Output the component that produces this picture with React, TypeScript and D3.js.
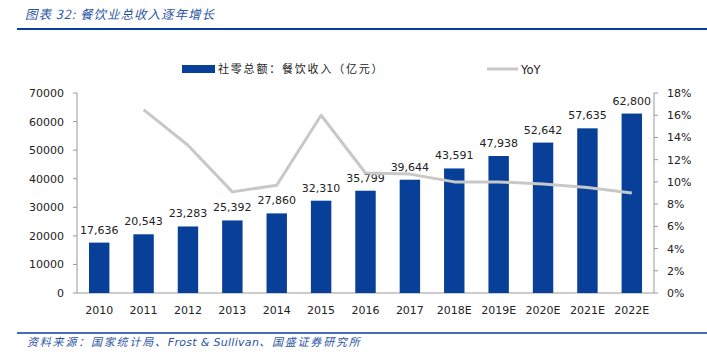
import React from "react";
import * as d3 from "d3";

const categories = ["2010","2011","2012","2013","2014","2015","2016","2017","2018E","2019E","2020E","2021E","2022E"];
const revenue = [17636, 20543, 23283, 25392, 27860, 32310, 35799, 39644, 43591, 47938, 52642, 57635, 62800];
const yoy: (number | null)[] = [null, 16.5, 13.3, 9.1, 9.7, 16.0, 10.8, 10.7, 10.0, 10.0, 9.8, 9.5, 9.0];
const leftTicks = [0, 10000, 20000, 30000, 40000, 50000, 60000, 70000];
const rightTicks = [0, 2, 4, 6, 8, 10, 12, 14, 16, 18];

const W = 707, H = 356;
const left = 77, right = 654, top = 93, bottom = 293;
const BLUE = "#073f99";
const TXT = "#2b55a5";
const FONT = "'DejaVu Sans', Verdana, sans-serif";
const CJK = "'Noto Sans CJK SC', sans-serif";

export default function App() {
  const x = d3.scaleBand<string>().domain(categories).range([left, right]).paddingInner(0.54).paddingOuter(0.27);
  const y = d3.scaleLinear().domain([0, 70000]).range([bottom, top]);
  const y2 = d3.scaleLinear().domain([0, 18]).range([bottom, top]);
  const line = d3.line<[string, number | null]>()
    .defined(d => d[1] !== null)
    .x(d => (x(d[0]) as number) + x.bandwidth() / 2)
    .y(d => y2(d[1] as number));
  const pairs: [string, number | null][] = categories.map((c, i) => [c, yoy[i]]);
  const fmt = d3.format(",");
  return (
    <svg width={W} height={H} style={{ position: "absolute", left: 0, top: 0, background: "#fff" }}>
      <rect width={W} height={H} fill="#fff" />
      <text x={25} y={19} fill={TXT} fontStyle="italic" fontFamily={CJK} fontSize={12.5} letterSpacing={1}>图表 32:  餐饮业总收入逐年增长</text>
      <line x1={17} x2={707} y1={29} y2={29} stroke={BLUE} strokeWidth={2} />
      {/* legend */}
      <rect x={182} y={65} width={33} height={8} fill={BLUE} />
      <text x={218} y={73} fontFamily={CJK} fontSize={11} fill="#222" letterSpacing={1.8}>社零总额：餐饮收入（亿元）</text>
      <line x1={487} x2={518} y1={69} y2={69} stroke="#c8c8c8" strokeWidth={3} />
      <text x={521} y={73.5} fontFamily={FONT} fontSize={11.5} fill="#222">YoY</text>
      {/* axes */}
      <line x1={left} x2={left} y1={top} y2={bottom} stroke="#999" />
      <line x1={right} x2={right} y1={top} y2={bottom} stroke="#999" />
      <line x1={left} x2={right} y1={bottom} y2={bottom} stroke="#999" />
      {leftTicks.map(t => (
        <g key={"l" + t}>
          <line x1={left - 4} x2={left} y1={y(t)} y2={y(t)} stroke="#999" />
          <text x={64} y={y(t) + 4} textAnchor="end" fontFamily={FONT} fontSize={11} fill="#222">{t}</text>
        </g>
      ))}
      {rightTicks.map(t => (
        <g key={"r" + t}>
          <line x1={right} x2={right + 4} y1={y2(t)} y2={y2(t)} stroke="#999" />
          <text x={667} y={y2(t) + 4} textAnchor="start" fontFamily={FONT} fontSize={11} fill="#222">{t}%</text>
        </g>
      ))}
      {categories.map(c => (
        <text key={"x" + c} x={(x(c) as number) + x.bandwidth() / 2} y={314} textAnchor="middle" fontFamily={FONT} fontSize={11} fill="#222">{c}</text>
      ))}
      {/* bars */}
      {categories.map((c, i) => (
        <g key={"b" + c}>
          <rect x={x(c)} y={y(revenue[i])} width={x.bandwidth()} height={bottom - y(revenue[i])} fill={BLUE} />
          <text x={(x(c) as number) + x.bandwidth() / 2} y={y(revenue[i]) - 9} textAnchor="middle" fontFamily={FONT} fontSize={11} fill="#222">{fmt(revenue[i])}</text>
        </g>
      ))}
      <path d={line(pairs) || ""} fill="none" stroke="#c8c8c8" strokeWidth={3} strokeLinejoin="round" />
      <line x1={17} x2={707} y1={333} y2={333} stroke={BLUE} strokeWidth={1.5} />
      <text x={27} y={346} fill={TXT} fontStyle="italic" fontFamily={CJK} fontSize={11} letterSpacing={1.8}>资料来源：国家统计局、<tspan fontFamily={FONT} letterSpacing={0.3}>Frost &amp; Sullivan</tspan>、国盛证券研究所</text>
    </svg>
  );
}
